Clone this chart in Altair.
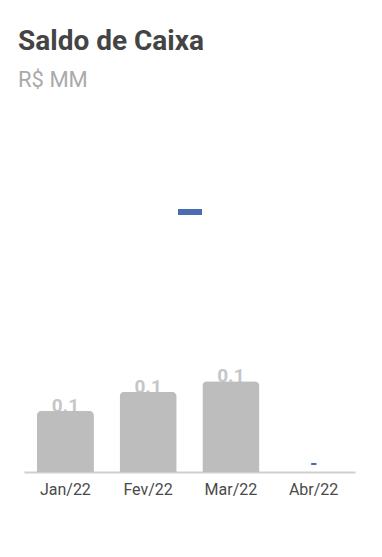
import altair as alt
import pandas as pd

meses = ["Jan/22", "Fev/22", "Mar/22", "Abr/22"]
saldo = [0.087, 0.114, 0.129, 0.0]
serie = ["Saldo de Caixa"] * 4

df = pd.DataFrame({"mes": meses, "saldo": saldo, "serie": serie})

x = alt.X(
    "mes:N",
    sort=meses,
    scale=alt.Scale(paddingInner=0.31, paddingOuter=0.155),
    axis=alt.Axis(
        title=None, labelAngle=0, ticks=False, domainColor="#d0d0d0", domainWidth=2,
        labelFont="Roboto", labelFontSize=16, labelColor="#4a4a4a", labelPadding=9,
    ),
)
y = alt.Y("saldo:Q", scale=alt.Scale(domain=[0, 0.5]), axis=None)

base = alt.Chart(df).encode(x=x, y=y)

labels = base.transform_filter("datum.saldo > 0").mark_text(
    font="Roboto", fontSize=19, fontWeight="bold", color="#c6c6c6",
    baseline="alphabetic", dy=1,
).encode(text=alt.Text("saldo:Q", format=".1f"))

bars = base.mark_bar(color="#bdbdbd", cornerRadiusTopLeft=5, cornerRadiusTopRight=5)

zero = base.transform_filter("datum.saldo == 0").mark_text(
    font="Roboto", fontSize=19, fontWeight="bold", baseline="alphabetic", dy=-2,
).encode(
    text=alt.value("-"),
    color=alt.Color(
        "serie:N",
        scale=alt.Scale(range=["#4a6cb0"]),
        legend=alt.Legend(
            title=None, orient="none", legendX=154, legendY=80, padding=0,
            symbolType="M-1,-0.25H1V0.25H-1Z", symbolSize=576, symbolStrokeWidth=0,
            symbolFillColor="#4a6cb0", labelExpr="''", labelFontSize=1,
        ),
    ),
)

chart = alt.layer(labels, bars, zero).properties(
    width=331,
    height=352,
    autosize=alt.AutoSizeParams(type="none"),
    padding={"left": 16, "top": 112, "right": 14, "bottom": 70},
    title=alt.Title(
        "Saldo de Caixa", subtitle="R$ MM", anchor="start", frame="group", dx=-6,
        offset=29, font="Roboto", fontSize=28, fontWeight="bold", color="#444444",
        subtitleFont="Roboto", subtitleFontSize=22, subtitleColor="#aaaaaa",
        subtitlePadding=14,
    ),
).configure_view(stroke=None)

chart.save("out.html", embed_options={"renderer": "svg", "actions": False})
